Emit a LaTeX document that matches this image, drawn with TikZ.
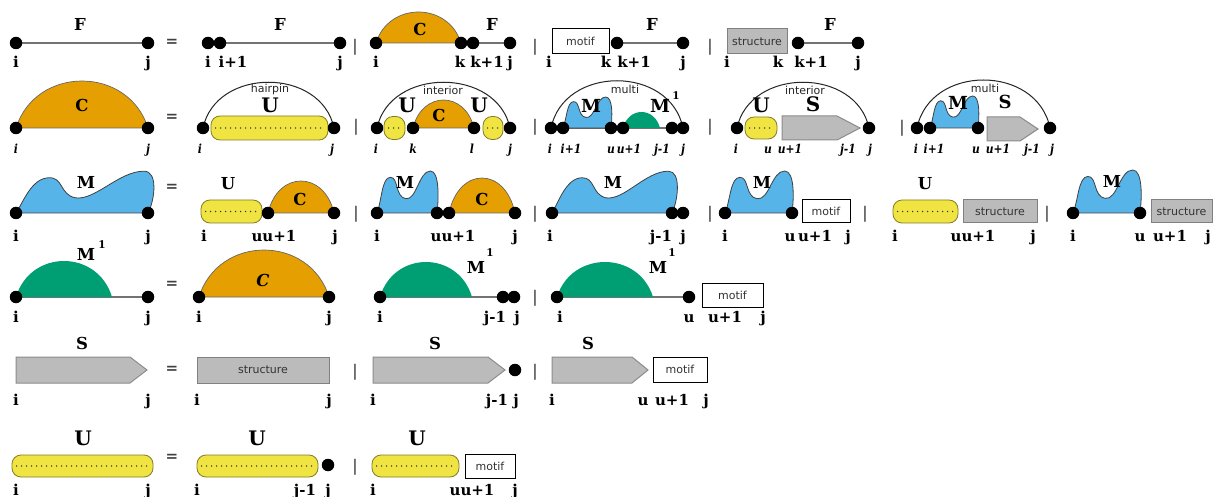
\documentclass[tikz,border=0pt]{standalone}
\usepackage{fontspec}
\setmainfont{DejaVu Serif}
\newfontfamily\sansf{DejaVu Sans}
\newfontfamily\itlf[FakeStretch=0.86]{DejaVu Serif Bold Italic}
\usetikzlibrary{calc}
\pgfdeclarelayer{bg}
\pgfsetlayers{bg,main}
\definecolor{corange}{HTML}{E69F00}
\definecolor{cblue}{HTML}{56B4E9}
\definecolor{cgreen}{HTML}{009E73}
\definecolor{cyellow}{HTML}{F0E442}
\definecolor{cgray}{HTML}{BBBBBB}
\tikzset{
 dotn/.style={circle, fill=black, inner sep=0pt, minimum size=12.5pt},
 lbl/.style={anchor=base, inner sep=0pt, font=\fontsize{15}{17}\selectfont\bfseries},
 ilbl/.style={anchor=base, inner sep=0pt, font=\itlf\fontsize{12.5}{14}\selectfont},
 bigl/.style={anchor=base, inner sep=0pt, font=\fontsize{16.5}{18}\selectfont\bfseries},
 bigil/.style={anchor=base, inner sep=0pt, font=\fontsize{16.5}{18}\selectfont\bfseries\itshape},
 midl/.style={anchor=base, inner sep=0pt, font=\fontsize{18}{20}\selectfont\bfseries},
 hugel/.style={anchor=base, inner sep=0pt, font=\fontsize{20}{22}\selectfont\bfseries},
 supl/.style={anchor=base, inner sep=0pt, font=\fontsize{10.5}{12}\selectfont\bfseries},
 sanl/.style={inner sep=0pt, font=\sansf\fontsize{11}{13}\selectfont, text=black!85},
 sepn/.style={inner sep=0pt, font=\sansf\fontsize{16}{16}\selectfont, text=black!80},
 eqn/.style={inner sep=0pt, font=\fontsize{15}{15}\selectfont\bfseries, text=black!75},
 baseln/.style={draw=black!55, line width=1.1pt},
 arcln/.style={draw=black!85, line width=1pt},
 domeO/.style={fill=corange, draw=black!60, line width=0.7pt},
 domeG/.style={fill=cgreen},
 blobsty/.style={fill=cblue, draw=black!75, line width=0.8pt},
 pilln/.style={rectangle, rounded corners=9pt, fill=cyellow, draw=black!45!cyellow, line width=0.8pt, inner sep=0pt},
 dotsln/.style={line width=1.6pt, line cap=round, dash pattern=on 0pt off 5pt, draw=black!80},
 motifn/.style={rectangle, draw=black, line width=1pt, fill=white, inner sep=0pt, font=\sansf\fontsize{11}{13}\selectfont, text=black!80},
 structn/.style={rectangle, draw=black!50, line width=1pt, fill=cgray, inner sep=0pt, font=\sansf\fontsize{11}{13}\selectfont, text=black!80},
 sarr/.style={fill=cgray, draw=black!45, line width=1pt},
}
\newcommand{\dt}[3]{\node[dotn] (#1) at (#2,#3) {};}
\newcommand{\domep}[5]{\path[#5] (#1,#3) .. controls ({#1+0.15*(#2-#1)},{#3-1.333*#4}) and ({#2-0.15*(#2-#1)},{#3-1.333*#4}) .. (#2,#3) -- cycle;}
\newcommand{\blobw}[4]{\begin{scope}[shift={(#1,#2)},xscale=#3,yscale=-#4]
\path[blobsty] (0,0) .. controls (0.06,0.3) and (0.12,0.85) .. (0.25,0.86) .. controls (0.36,0.87) and (0.33,0.45) .. (0.45,0.37) .. controls (0.6,0.3) and (0.78,1.02) .. (0.97,1.02) .. controls (1.08,1.02) and (1.05,0.3) .. (1,0) -- cycle;
\end{scope}}
\newcommand{\blobn}[4]{\begin{scope}[shift={(#1,#2)},xscale=#3,yscale=-#4]
\path[blobsty] (0,0) .. controls (0.08,0.3) and (0.08,0.84) .. (0.22,0.85) .. controls (0.36,0.86) and (0.3,0.38) .. (0.48,0.34) .. controls (0.66,0.3) and (0.7,1.0) .. (0.89,1.0) .. controls (1.04,1.0) and (1.03,0.35) .. (1,0) -- cycle;
\end{scope}}
\newcommand{\pil}[5]{\node[pilln, minimum width=#4pt, minimum height=#5pt] (#1) at (#2,#3) {}; \draw[dotsln] ([xshift=5pt]#1.west) -- ([xshift=-5pt]#1.east);}
\newcommand{\sar}[5]{\path[sarr] (#1,#4) -- (#2,#4) -- (#3,{(#4+#5)/2}) -- (#2,#5) -- (#1,#5) -- cycle;}
\newcommand{\arcc}[4]{\draw[arcln] (#1.center) .. controls +(#3,-#4) and +(-#3,-#4) .. (#2.center);}
\begin{document}
\begin{tikzpicture}[x=1pt,y=-1pt]
\useasboundingbox (0,0) rectangle (1213,497);
\begin{pgfonlayer}{bg}\fill[white] (0,0) rectangle (1213,497);\end{pgfonlayer}
% ---------- Row 1 ----------
\dt{a1}{16}{43}\dt{a2}{148}{43}
\node[bigl] (F1) at (80,31) {F};
\node[lbl] (r1a) at (16,68) {i};
\node[lbl] (r1b) at (148,68) {j};
\node[eqn] (eq1) at (172,43) {=};
\dt{a3}{208}{43}\dt{a4}{220}{43}\dt{a5}{340}{43}
\node[bigl] (F2) at (280,31) {F};
\node[lbl] (r1c) at (208,68) {i};
\node[lbl] (r1d) at (233,68) {i+1};
\node[lbl] (r1e) at (340,68) {j};
\node[sepn] (sp1) at (355,47) {|};
\dt{a6}{376}{43}\dt{a7}{461}{43}\dt{a8}{473}{43}\dt{a9}{510}{43}
\node[bigl] (C1) at (420,36) {C};
\node[bigl] (F3) at (492,31) {F};
\node[lbl] (r1f) at (376,68) {i};
\node[lbl] (r1g) at (460,68) {k};
\node[lbl] (r1h) at (487,68) {k+1};
\node[lbl] (r1i) at (510,68) {j};
\node[sepn] (sp2) at (535,47) {|};
\node[motifn, minimum width=57pt, minimum height=25pt] (mo1) at (580.5,41.5) {motif};
\dt{a10}{617}{43}\dt{a11}{683}{43}
\node[bigl] (F4) at (652,31) {F};
\node[lbl] (r1j) at (549,68) {i};
\node[lbl] (r1k) at (606,68) {k};
\node[lbl] (r1l) at (634,68) {k+1};
\node[lbl] (r1m) at (683,68) {j};
\node[sepn] (sp3) at (710,47) {|};
\node[structn, minimum width=60pt, minimum height=25pt] (st1) at (757,41.5) {structure};
\dt{a12}{798}{43}\dt{a13}{858}{43}
\node[bigl] (F5) at (830,31) {F};
\node[lbl] (r1n) at (727,68) {i};
\node[lbl] (r1o) at (778,68) {k};
\node[lbl] (r1p) at (811,68) {k+1};
\node[lbl] (r1q) at (858,68) {j};
% ---------- Row 2 ----------
\dt{b1}{16}{128}\dt{b2}{148}{128}
\node[bigl] (C2) at (82,112) {C};
\node[ilbl] (r2a) at (16,154) {i};
\node[ilbl] (r2b) at (148,154) {j};
\node[eqn] (eq2) at (172,118) {=};
\pil{p1}{269.5}{128}{117}{24}
\dt{b3}{203}{128}\dt{b4}{334}{128}
\node[sanl] (hp) at (270,89) {hairpin};
\node[hugel] (U1) at (270,113) {U};
\node[ilbl] (r2c) at (200,154) {i};
\node[ilbl] (r2d) at (332,154) {j};
\node[sepn] (sp4) at (356,127) {|};
\pil{p2}{394.5}{128}{21}{23}
\pil{p3}{493}{128}{20}{23}
\dt{b5}{377}{128}\dt{b6}{413}{128}\dt{b7}{474}{128}\dt{b8}{510}{128}
\node[sanl] (in1) at (443,90) {interior};
\node[hugel] (U2) at (407,113) {U};
\node[hugel] (U3) at (479,113) {U};
\node[bigl] (C3) at (439,122) {C};
\node[ilbl] (r2e) at (376,154) {i};
\node[ilbl] (r2f) at (413,154) {k};
\node[ilbl] (r2g) at (472,154) {l};
\node[ilbl] (r2h) at (510,154) {j};
\node[sepn] (sp5) at (535,127) {|};
\dt{b9}{551}{128}\dt{b10}{563}{128}\dt{b11}{611}{128}\dt{b12}{623}{128}\dt{b13}{672}{128}\dt{b14}{683}{128}
\node[sanl] (mu1) at (625,89) {multi};
\node[midl] (M1) at (591,113) {M};
\node[midl] (M2) at (660,113) {M};
\node[supl] (s1) at (676,100) {1};
\node[ilbl] (r2i) at (550,154) {i};
\node[ilbl] (r2j) at (571,154) {i+1};
\node[ilbl] (r2k) at (611,154) {u};
\node[ilbl] (r2l) at (629,154) {u+1};
\node[ilbl] (r2m) at (662,154) {j-1};
\node[ilbl] (r2n) at (683,154) {j};
\node[sepn] (sp6) at (710,127) {|};
\pil{p4}{761}{128}{32}{22}
\dt{b15}{737}{128}\dt{b16}{869}{128}
\node[sanl] (in2) at (805,90) {interior};
\node[hugel] (U4) at (761,113) {U};
\node[hugel] (S1) at (813,112) {S};
\node[ilbl] (r2o) at (736,154) {i};
\node[ilbl] (r2p) at (768,154) {u};
\node[ilbl] (r2q) at (790,154) {u+1};
\node[ilbl] (r2r) at (848,154) {j-1};
\node[ilbl] (r2s) at (870,154) {j};
\node[sepn] (sp7) at (902,128) {|};
\dt{b17}{917}{128}\dt{b18}{930}{128}\dt{b19}{978}{128}\dt{b20}{1050}{128}
\node[sanl] (mu2) at (985,88) {multi};
\node[midl] (M3) at (958,110) {M};
\node[midl] (S2) at (1005,109) {S};
\node[ilbl] (r2t) at (916,154) {i};
\node[ilbl] (r2u) at (934,154) {i+1};
\node[ilbl] (r2v) at (976,154) {u};
\node[ilbl] (r2w) at (998,154) {u+1};
\node[ilbl] (r2x) at (1032,154) {j-1};
\node[ilbl] (r2y) at (1052,154) {j};
% ---------- Row 3 ----------
\dt{c1}{16}{213}\dt{c2}{148}{213}
\node[bigl] (M4) at (86,189) {M};
\node[lbl] (r3a) at (16,242) {i};
\node[lbl] (r3b) at (148,242) {j};
\node[eqn] (eq3) at (172,188) {=};
\pil{p5}{231.5}{211.5}{61}{23}
\node[bigl] (U5) at (228,190) {U};
\dt{c3}{268}{213}\dt{c4}{334}{213}
\node[bigl] (C4) at (300,206) {C};
\node[lbl] (r3c) at (204,242) {i};
\node[lbl] (r3d) at (274,242) {uu+1};
\node[lbl] (r3e) at (335,242) {j};
\node[sepn] (sp8) at (356,214) {|};
\dt{c5}{377}{213}\dt{c6}{437}{213}\dt{c7}{449}{213}\dt{c8}{515}{213}
\node[bigl] (M5) at (405,189) {M};
\node[bigl] (C5) at (482,206) {C};
\node[lbl] (r3f) at (377,242) {i};
\node[lbl] (r3g) at (453,242) {uu+1};
\node[lbl] (r3h) at (515,242) {j};
\node[sepn] (sp9) at (535,214) {|};
\dt{c9}{552}{213}\dt{c10}{672}{213}\dt{c11}{683}{213}
\node[bigl] (M6) at (613,189) {M};
\node[lbl] (r3i) at (550,242) {i};
\node[lbl] (r3j) at (661,242) {j-1};
\node[lbl] (r3k) at (683,242) {j};
\node[sepn] (sp10) at (710,214) {|};
\dt{c12}{725}{213}\dt{c13}{792}{213}
\node[bigl] (M7) at (762,189) {M};
\node[motifn, minimum width=48pt, minimum height=23pt] (mo2) at (826,211.5) {motif};
\node[lbl] (r3l) at (725,242) {i};
\node[lbl] (r3m) at (790,242) {u};
\node[lbl] (r3n) at (815,242) {u+1};
\node[lbl] (r3o) at (848,242) {j};
\node[sepn] (sp11) at (865,214) {|};
\pil{p6}{925.5}{211.5}{65}{23}
\node[bigl] (U6) at (925,190) {U};
\node[structn, minimum width=74pt, minimum height=23pt] (st2) at (1000,211.5) {structure};
\node[lbl] (r3p) at (895,242) {i};
\node[lbl] (r3q) at (973,242) {uu+1};
\node[lbl] (r3r) at (1033,242) {j};
\node[sepn] (sp12) at (1047,214) {|};
\dt{c14}{1073}{213}\dt{c15}{1140}{213}
\node[bigl] (M8) at (1112,188) {M};
\node[structn, minimum width=61pt, minimum height=23pt] (st3) at (1181.5,211.5) {structure};
\node[lbl] (r3s) at (1073,242) {i};
\node[lbl] (r3t) at (1140,242) {u};
\node[lbl] (r3u) at (1170,242) {u+1};
\node[lbl] (r3v) at (1208,242) {j};
% ---------- Row 4 ----------
\dt{d1}{16}{297}\dt{d2}{148}{297}
\node[bigl] (M9) at (86,261) {M};
\node[supl] (s2) at (102,249) {1};
\node[lbl] (r4a) at (16,322) {i};
\node[lbl] (r4b) at (148,322) {j};
\node[eqn] (eq4) at (172,285) {=};
\dt{d3}{199}{297}\dt{d4}{329}{297}
\node[bigil] (C6) at (263,287) {C};
\node[lbl] (r4c) at (199,322) {i};
\node[lbl] (r4d) at (329,322) {j};
\dt{d5}{380}{297}\dt{d6}{503}{297}\dt{d7}{514}{297}
\node[bigl] (M10) at (476,273) {M};
\node[supl] (s3) at (490,257) {1};
\node[lbl] (r4e) at (380,322) {i};
\node[lbl] (r4f) at (495,322) {j-1};
\node[lbl] (r4g) at (517,322) {j};
\node[sepn] (sp13) at (535,298) {|};
\dt{d8}{557}{297}\dt{d9}{689}{297}
\node[bigl] (M11) at (658,273) {M};
\node[supl] (s4) at (672,257) {1};
\node[motifn, minimum width=61pt, minimum height=24pt] (mo3) at (732.5,295) {motif};
\node[lbl] (r4h) at (560,322) {i};
\node[lbl] (r4i) at (689,322) {u};
\node[lbl] (r4j) at (725,322) {u+1};
\node[lbl] (r4k) at (763,322) {j};
% ---------- Row 5 ----------
\node[bigl] (S3) at (82,349) {S};
\node[lbl] (r5a) at (16,405) {i};
\node[lbl] (r5b) at (148,405) {j};
\node[eqn] (eq5) at (172,370) {=};
\node[structn, minimum width=132pt, minimum height=26pt] (st4) at (263,370) {structure};
\node[lbl] (r5c) at (197,405) {i};
\node[lbl] (r5d) at (329,405) {j};
\node[sepn] (sp14) at (355,372) {|};
\dt{e1}{515}{370}
\node[bigl] (S4) at (435,349) {S};
\node[lbl] (r5e) at (373,405) {i};
\node[lbl] (r5f) at (497,405) {j-1};
\node[lbl] (r5g) at (516,405) {j};
\node[sepn] (sp15) at (535,372) {|};
\node[motifn, minimum width=54pt, minimum height=25pt] (mo4) at (680,369.5) {motif};
\node[bigl] (S5) at (588,349) {S};
\node[lbl] (r5h) at (552,405) {i};
\node[lbl] (r5i) at (643,405) {u};
\node[lbl] (r5j) at (672,405) {u+1};
\node[lbl] (r5k) at (706,405) {j};
% ---------- Row 6 ----------
\pil{p7}{82.5}{466}{141}{22}
\node[hugel] (U7) at (83,445) {U};
\node[lbl] (r6a) at (16,495) {i};
\node[lbl] (r6b) at (148,495) {j};
\node[eqn] (eq6) at (172,458) {=};
\pil{p8}{257.5}{466}{121}{22}
\dt{f1}{328}{465}
\node[hugel] (U8) at (257,445) {U};
\node[lbl] (r6c) at (197,495) {i};
\node[lbl] (r6d) at (305,495) {j-1};
\node[lbl] (r6e) at (328,495) {j};
\node[sepn] (sp16) at (355,467) {|};
\pil{p9}{415.5}{466}{87}{22}
\node[motifn, minimum width=50pt, minimum height=24pt] (mo5) at (490,466) {motif};
\node[hugel] (U9) at (417,445) {U};
\node[lbl] (r6f) at (373,495) {i};
\node[lbl] (r6g) at (472,495) {uu+1};
\node[lbl] (r6h) at (515,495) {j};
% ---------- background shapes ----------
\begin{pgfonlayer}{bg}
\draw[baseln] (a1) -- (a2);
\draw[baseln] (a4) -- (a5);
\draw[baseln] (a8) -- (a9);
\draw[baseln] (a10) -- (a11);
\draw[baseln] (a12) -- (a13);
\draw[baseln] (b9) -- (b14);
\draw[baseln] (d1) -- (d2);
\draw[baseln] (d5) -- (d7);
\draw[baseln] (d8) -- (d9);
\domep{376}{461}{43}{31}{domeO}
\domep{16}{148}{128}{47}{domeO}
\domep{413}{474}{128}{28}{domeO}
\domep{623}{660}{128}{16}{domeG}
\domep{268}{334}{213}{32}{domeO}
\domep{449}{515}{213}{35}{domeO}
\domep{16}{112}{297}{36}{domeG}
\domep{199}{329}{297}{47}{domeO}
\domep{380}{472}{297}{35}{domeG}
\domep{557}{653}{297}{35}{domeG}
\blobn{563}{128}{48}{31}
\blobn{930}{128}{48}{32}
\blobw{16}{213}{132}{41}
\blobn{377}{213}{60}{42}
\blobw{552}{213}{120}{41}
\blobn{725}{213}{67}{42}
\blobn{1073}{213}{67}{43}
\sar{782}{837}{860}{116}{140}
\sar{987}{1020}{1038}{117}{141}
\sar{16}{130}{147}{357}{383}
\sar{373}{488}{505}{357}{383}
\sar{552}{632}{648}{357}{383}
\arcc{b3}{b4}{13}{61}
\arcc{b5}{b8}{13}{61}
\arcc{b9}{b14}{13}{63}
\arcc{b15}{b16}{13}{61}
\arcc{b17}{b20}{13}{64}
\end{pgfonlayer}
\end{tikzpicture}
\end{document}
